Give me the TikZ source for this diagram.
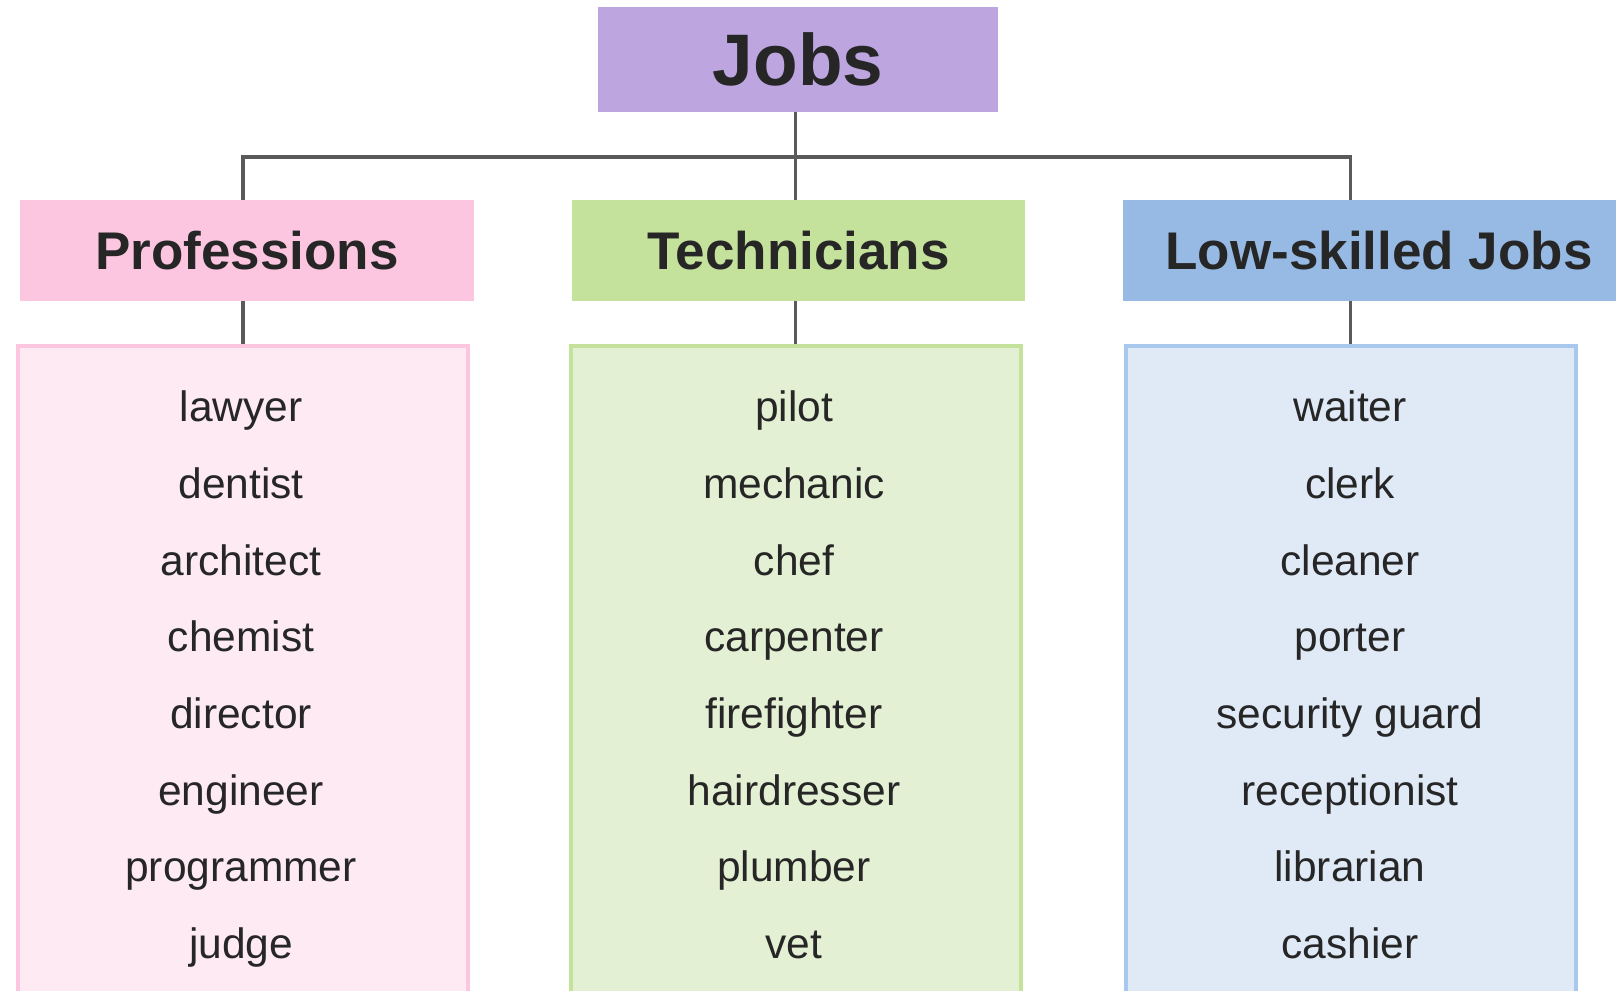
\documentclass[tikz,border=0pt]{standalone}
\usepackage{fontspec}
\setmainfont{Liberation Sans}
\definecolor{txt}{HTML}{262626}
\definecolor{linec}{HTML}{5A5A5A}
\definecolor{jobsc}{HTML}{BDA5E0}
\definecolor{pinkh}{HTML}{FCC6E0}
\definecolor{pinkl}{HTML}{FDEAF3}
\definecolor{pinkb}{HTML}{FCC6E0}
\definecolor{greenh}{HTML}{C5E29C}
\definecolor{greenl}{HTML}{E4F0D3}
\definecolor{greenb}{HTML}{C5E29C}
\definecolor{blueh}{HTML}{97BAE4}
\definecolor{bluel}{HTML}{E0EAF7}
\definecolor{blueb}{HTML}{A9C8EE}
\begin{document}
\begin{tikzpicture}[x=1pt,y=-1pt,
  hdr/.style={inner sep=0pt,text=txt,font=\fontsize{53}{60}\selectfont\bfseries,minimum height=101pt},
  listbox/.style={inner sep=0pt,line width=4pt,minimum width=450pt,minimum height=664pt},
  item/.style={inner sep=0pt,text=txt,font=\fontsize{42.5}{50}\selectfont},
  conn/.style={draw=linec,line width=3.3pt}]
\useasboundingbox (0,0) rectangle (1616,990);
\clip (0,0) rectangle (1616,990);
\fill[white] (0,0) rectangle (1616,990);
% top
\node[hdr,fill=jobsc,minimum width=400pt,minimum height=105pt,font=\fontsize{73}{80}\selectfont\bfseries] (jobs) at (798,59.5) {Jobs};
% headers
\node[hdr,fill=pinkh,minimum width=454pt] (prof) at (247,250.5) {Professions};
\node[hdr,fill=greenh,minimum width=453pt] (tech) at (798.5,250.5) {Technicians};
\node[hdr,fill=blueh,minimum width=512pt] (low) at (1379,250.5) {Low-skilled Jobs};
% list boxes
\node[listbox,draw=pinkb,fill=pinkl] (plist) at (243,678) {};
\node[listbox,draw=greenb,fill=greenl] (glist) at (795.5,678) {};
\node[listbox,draw=blueb,fill=bluel] (blist) at (1350.5,678) {};
% connectors
\coordinate (bus) at (796,157);
\draw[conn] (plist.north |- prof.north) -- (plist.north |- bus) -- (blist.north |- bus) -- (blist.north |- low.north);
\draw[conn] (jobs.south -| glist.north) -- (glist.north |- tech.north);
\draw[conn] (plist.north |- prof.south) -- (plist.north);
\draw[conn] (glist.north |- tech.south) -- (glist.north);
\draw[conn] (blist.north |- low.south) -- (blist.north);
% items
\foreach \t [count=\i] in {lawyer,dentist,architect,chemist,director,engineer,programmer,judge}
  \node[item] (p\i) at (241,335+76.7*\i) {\strut\t};
\foreach \t [count=\i] in {pilot,mechanic,chef,carpenter,firefighter,hairdresser,plumber,vet}
  \node[item] (g\i) at (794,335+76.7*\i) {\strut\t};
\foreach \t [count=\i] in {waiter,clerk,cleaner,porter,security guard,receptionist,librarian,cashier}
  \node[item] (b\i) at (1350,335+76.7*\i) {\strut\t};
\end{tikzpicture}
\end{document}
